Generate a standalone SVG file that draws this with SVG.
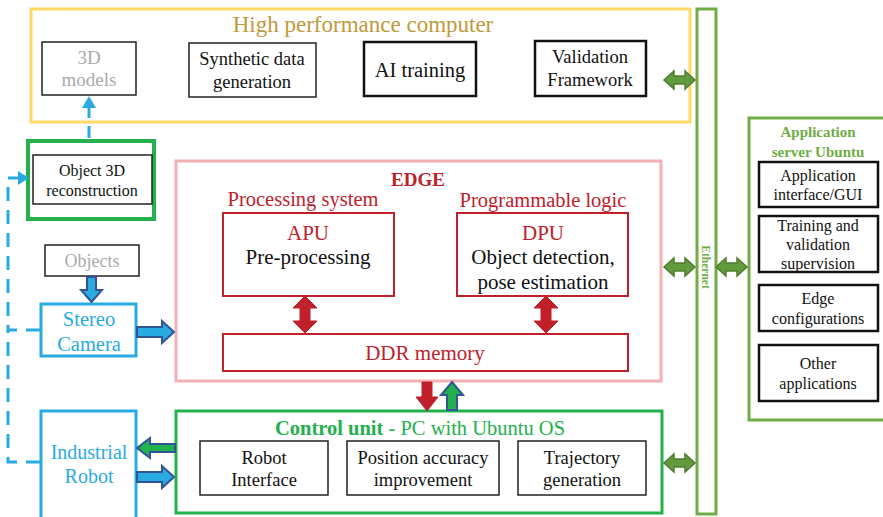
<svg xmlns="http://www.w3.org/2000/svg" width="883" height="517" viewBox="0 0 883 517" font-family="'Liberation Serif','Times New Roman',serif">
<defs>
<style>
text,tspan{font-family:"Liberation Serif","Times New Roman",serif;text-anchor:middle}
.box{fill:#fff;stroke:#222;stroke-width:1.5}
.bbox{fill:#fff;stroke:#111;stroke-width:2.5}
.t15{font-size:18.5px;fill:#111}
.t14{font-size:16px;fill:#111}
.red{fill:#C0202A}
.rbox{fill:#fff;stroke:#C0202A;stroke-width:2}
.blue{fill:#29ABE2}
.gArrow{fill:#629A3E;stroke:#4E7D2F;stroke-width:1.5}
.rArrow{fill:#C0202A;stroke:#C0202A;stroke-width:1}
.bArrow{fill:#29ABE2;stroke:#2F5597;stroke-width:2}
.dash{fill:none;stroke:#29ABE2;stroke-width:3;stroke-dasharray:14,9}
</style>
</defs>
<rect width="883" height="517" fill="#fff"/>

<g id="hpc">
<rect x="31" y="9" width="659" height="113" fill="#fff" stroke="#FFD966" stroke-width="3"/>
<text x="363" y="32" style="font-size:23px;fill:#C09A3C">High performance computer</text>
</g>
<g id="models3d">
<rect x="42" y="42" width="94" height="53" class="box"/>
<text x="89" y="64" style="font-size:19px;fill:#AAAAAA">3D</text>
<text x="89" y="86" style="font-size:19px;fill:#AAAAAA">models</text>
</g>
<g id="synthetic">
<rect x="189" y="43" width="127" height="54" class="box"/>
<text x="252" y="65" class="t15">Synthetic data</text>
<text x="252" y="88" class="t15">generation</text>
</g>
<g id="aitraining">
<rect x="364" y="42" width="112" height="54" class="bbox"/>
<text x="420" y="77" style="font-size:20.5px;fill:#111">AI training</text>
</g>
<g id="validation">
<rect x="535" y="41" width="111" height="55" class="bbox"/>
<text x="590" y="63" class="t15">Validation</text>
<text x="590" y="86" class="t15">Framework</text>
</g>

<g id="ethernet">
<rect x="697" y="9" width="19" height="505" fill="#fff" stroke="#70AD47" stroke-width="3"/>
<text x="0" y="0" transform="translate(702,267) rotate(90)" style="font-size:11.5px;font-weight:bold;fill:#70AD47">Ethernet</text>
</g>

<g id="appserver">
<rect x="749" y="118" width="140" height="302" fill="#fff" stroke="#70AD47" stroke-width="3"/>
<text x="818" y="137" style="font-size:15px;font-weight:bold;fill:#70AD47">Application</text>
<text x="818" y="157" style="font-size:15px;font-weight:bold;fill:#70AD47">server Ubuntu</text>
</g>
<g id="gui">
<rect x="759" y="162" width="119" height="45" class="bbox"/>
<text x="818" y="181" class="t14">Application</text>
<text x="818" y="200" class="t14">interface/GUI</text>
</g>
<g id="supervision">
<rect x="759" y="216" width="119" height="56" class="bbox"/>
<text x="818" y="231" class="t14">Training and</text>
<text x="818" y="250" class="t14">validation</text>
<text x="818" y="269" class="t14">supervision</text>
</g>
<g id="edgeconf">
<rect x="759" y="285" width="119" height="46" class="bbox"/>
<text x="818" y="304" class="t14">Edge</text>
<text x="818" y="324" class="t14">configurations</text>
</g>
<g id="otherapps">
<rect x="759" y="345" width="119" height="56" class="bbox"/>
<text x="818" y="369" class="t14">Other</text>
<text x="818" y="389" class="t14">applications</text>
</g>

<g id="recon">
<rect x="28" y="141" width="126" height="78" fill="#fff" stroke="#22B14C" stroke-width="4"/>
<rect x="33" y="155" width="119" height="49" class="box"/>
<text x="92" y="176" class="t14">Object 3D</text>
<text x="92" y="196" class="t14">reconstruction</text>
</g>

<g id="objects">
<rect x="45" y="245" width="94" height="31" class="box"/>
<text x="92" y="267" style="font-size:18px;fill:#AAAAAA">Objects</text>
</g>

<g id="camera">
<rect x="41" y="304" width="95" height="52" fill="#fff" stroke="#29ABE2" stroke-width="3"/>
<text x="89" y="326" class="blue" style="font-size:20.5px">Stereo</text>
<text x="89" y="351" class="blue" style="font-size:20.5px">Camera</text>
</g>

<g id="robot">
<rect x="41" y="411" width="95" height="110" fill="#fff" stroke="#29ABE2" stroke-width="3"/>
<text x="89" y="459" class="blue" style="font-size:20px">Industrial</text>
<text x="89" y="483" class="blue" style="font-size:20px">Robot</text>
</g>

<g id="edge">
<rect x="176" y="161" width="485" height="220" fill="#fff" stroke="#F4B0B4" stroke-width="3"/>
<text x="418" y="186" class="red" style="font-size:19px;font-weight:bold">EDGE</text>
<text x="303" y="206" class="red" style="font-size:20.5px">Processing system</text>
<text x="543" y="207" class="red" style="font-size:20.5px">Programmable logic</text>
</g>
<g id="apu">
<rect x="223" y="213" width="171" height="83" class="rbox"/>
<text x="308" y="240" class="red" style="font-size:21px">APU</text>
<text x="308" y="264" style="font-size:21px;fill:#111">Pre-processing</text>
</g>
<g id="dpu">
<rect x="457" y="213" width="171" height="83" class="rbox"/>
<text x="543" y="240" class="red" style="font-size:21px">DPU</text>
<text x="543" y="264" style="font-size:21px;fill:#111">Object detection,</text>
<text x="543" y="289" style="font-size:21px;fill:#111">pose estimation</text>
</g>
<g id="ddr">
<rect x="223" y="334" width="405" height="37" class="rbox"/>
<text x="425" y="360" class="red" style="font-size:21px">DDR memory</text>
</g>

<g id="control">
<rect x="176" y="411" width="486" height="102" fill="#fff" stroke="#22B14C" stroke-width="3"/>
<text x="420" y="435" style="font-size:20.5px;fill:#22B14C"><tspan font-weight="bold">Control unit</tspan> - PC with Ubuntu OS</text>
</g>
<g id="robotif">
<rect x="200" y="441" width="128" height="54" class="box"/>
<text x="264" y="464" class="t15">Robot</text>
<text x="264" y="486" class="t15">Interface</text>
</g>
<g id="posacc">
<rect x="347" y="441" width="152" height="54" class="box"/>
<text x="423" y="464" class="t15">Position accuracy</text>
<text x="423" y="486" class="t15">improvement</text>
</g>
<g id="traj">
<rect x="518" y="441" width="128" height="54" class="box"/>
<text x="582" y="464" class="t15">Trajectory</text>
<text x="582" y="486" class="t15">generation</text>
</g>

<g id="connectors">
<path class="gArrow" d="M664 80 L674 71 L674 76 L685 76 L685 71 L695 80 L685 89 L685 84 L674 84 L674 89 Z"/>
<path class="gArrow" d="M664 267 L674 258 L674 263 L685 263 L685 258 L695 267 L685 276 L685 271 L674 271 L674 276 Z"/>
<path class="gArrow" d="M664 463 L674 454 L674 459 L685 459 L685 454 L695 463 L685 472 L685 467 L674 467 L674 472 Z"/>
<path class="gArrow" d="M716 267 L726 258 L726 263 L737 263 L737 258 L747 267 L737 276 L737 271 L726 271 L726 276 Z"/>
<path class="rArrow" d="M305 296 L317 308 L310 308 L310 321 L317 321 L305 333 L293 321 L300 321 L300 308 L293 308 Z"/>
<path class="rArrow" d="M546 296 L558 308 L551 308 L551 321 L558 321 L546 333 L534 321 L541 321 L541 308 L534 308 Z"/>
<path class="rArrow" d="M422 382 L432 382 L432 397 L438 397 L427 411 L416 397 L422 397 Z"/>
<path d="M452 382 L463 395 L457 395 L457 410 L447 410 L447 395 L441 395 Z" fill="#22B14C" stroke="#2F5597" stroke-width="2"/>
<path class="bArrow" d="M87 277 L96 277 L96 290 L102 290 L91.5 302 L81 290 L87 290 Z"/>
<path class="bArrow" d="M137 327 L162 327 L162 321 L174 332 L162 343 L162 337 L137 337 Z"/>
<path d="M175 444 L150 444 L150 438 L137 448 L150 458 L150 452 L175 452 Z" fill="#22B14C" stroke="#2F5597" stroke-width="2"/>
<path class="bArrow" d="M137 472 L162 472 L162 466 L174 477 L162 488 L162 482 L137 482 Z"/>
<path class="dash" d="M40 330 L8 330 L8 178 L20 178"/>
<path class="dash" d="M40 462 L8 462 L8 330"/>
<path d="M18 171 L29 178 L18 185 Z" fill="#29ABE2"/>
<path class="dash" d="M89 138 L89 108" style="stroke-dasharray:12,8"/>
<path d="M82 108 L89 96 L96 108 Z" fill="#29ABE2"/>
</g>
</svg>
